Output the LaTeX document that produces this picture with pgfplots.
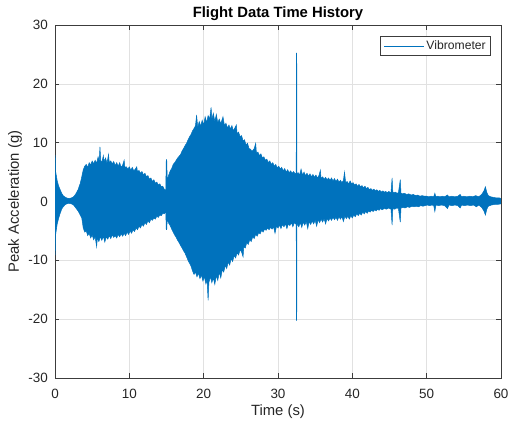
\documentclass[border=0pt]{standalone}
\usepackage{fontspec}
\setmainfont{Liberation Sans}
\usepackage{pgfplots}
\pgfplotsset{compat=1.18}
\usepgfplotslibrary{fillbetween}
\definecolor{mblue}{RGB}{0,114,189}
\definecolor{gridc}{RGB}{225,225,225}
\definecolor{axc}{RGB}{60,60,60}
\begin{document}
\begin{tikzpicture}
\begin{axis}[
  at={(0,0)}, anchor=south west,
  width=446bp, height=353bp, scale only axis,
  xmin=0, xmax=60, ymin=-30, ymax=30,
  xtick={0,10,...,60}, ytick={-30,-20,...,30},
  grid=major, grid style={gridc, line width=0.5bp},
  axis line style={axc, line width=0.6bp},
  tick style={axc, line width=0.6bp},
  tick align=inside, major tick length=4.5bp,
  /pgf/number format/assume math mode=true,
  ticklabel style={font=\fontsize{13.5}{16}\selectfont, text=black!85},
  xticklabel style={anchor=north, inner sep=0pt, yshift=-10.7bp},
  yticklabel style={anchor=east, inner sep=0pt, xshift=-7bp},
  xlabel={Time (s)}, ylabel={Peak Acceleration (g)},
  xlabel style={at={(axis description cs:0.5,-0.0963)}, anchor=center, font=\fontsize{14.9}{17}\selectfont, text=black!85},
  ylabel style={at={(axis description cs:-0.0897,0.5)}, anchor=center, font=\fontsize{14.9}{17}\selectfont, text=black!85},
  title={Flight Data Time History},
  title style={at={(axis description cs:0.5,1.016)}, anchor=center, font=\bfseries\fontsize{14.9}{17}\selectfont},
  legend style={at={(1,1)}, anchor=north east, xshift=-10bp, yshift=-11bp,
    font=\fontsize{12.2}{14}\selectfont, draw=axc, line width=0.6bp,
    inner xsep=3bp, inner ysep=2.5bp, text=black!85},
  legend image code/.code={\draw[mblue, line width=0.7bp] (0bp,0bp) -- (40bp,0bp);},
  legend cell align=left,
]
\addplot[mblue, line width=0.5bp, name path=U, forget plot] coordinates {
(0,7.9)(0.05,7.2)(0.1,5.0)(0.3,3.5)(0.5,2.6)(0.7,2.0)(0.9,1.4)(1.1,1.0)(1.4,0.7)(1.8,0.5)(2.2,0.6)(2.5,0.8)(2.8,1.3)(3.1,2.0)(3.4,3.1)(3.6,4.2)(3.8,5.4)(4.0,6.0)(4.2,6.3)(4.4,5.8)(4.6,6.6)(4.8,6.2)(5.0,6.9)(5.2,6.4)(5.4,7.0)(5.6,6.5)(5.8,7.6)(5.95,6.9)(6.05,9.3)(6.15,7.0)(6.3,6.6)(6.5,7.8)(6.6,6.8)(6.8,7.4)(7.0,6.5)(7.2,8.0)(7.3,6.6)(7.5,6.9)(7.7,6.4)(7.9,6.8)(8.1,6.1)(8.3,6.6)(8.5,6.0)(8.7,6.6)(8.9,5.8)(9.1,6.2)(9.3,7.0)(9.4,5.8)(9.6,5.9)(9.8,5.5)(10.0,5.9)(10.2,5.3)(10.4,5.8)(10.6,5.2)(10.8,5.5)(11.0,5.9)(11.1,5.0)(11.3,5.3)(11.5,4.8)(11.7,5.1)(11.9,4.5)(12.1,4.8)(12.3,4.2)(12.5,4.4)(12.7,3.8)(12.9,4.0)(13.1,3.4)(13.3,3.7)(13.5,3.1)(13.7,3.3)(13.9,2.8)(14.1,3.0)(14.3,2.5)(14.5,2.6)(14.7,2.1)(14.9,1.9)(14.97,7.1)(15.03,7.1)(15.1,3.7)(15.3,4.5)(15.5,5.2)(15.7,5.6)(15.9,6.3)(16.1,6.6)(16.3,7.0)(16.5,7.4)(16.7,7.7)(16.9,8.0)(17.1,8.6)(17.3,9.0)(17.5,9.5)(17.7,9.9)(17.9,10.5)(18.1,11.0)(18.3,11.4)(18.5,12.0)(18.7,12.4)(18.9,12.9)(19.05,14.7)(19.2,12.6)(19.4,13.6)(19.6,12.8)(19.8,13.8)(20.0,13.0)(20.2,14.4)(20.4,13.4)(20.6,14.6)(20.8,14.0)(21.0,16.0)(21.1,14.0)(21.3,15.0)(21.5,13.6)(21.7,14.8)(21.9,13.4)(22.1,14.0)(22.3,13.2)(22.6,14.4)(22.8,12.9)(23.0,13.3)(23.2,12.5)(23.4,13.0)(23.6,12.3)(23.8,12.9)(24.0,12.0)(24.2,12.5)(24.4,13.0)(24.5,11.5)(24.7,11.8)(24.9,11.0)(25.1,11.2)(25.3,10.3)(25.5,10.5)(25.7,9.6)(25.9,9.9)(26.1,9.0)(26.3,8.9)(26.5,8.5)(26.8,9.0)(27.0,9.9)(27.1,8.2)(27.3,8.4)(27.5,7.8)(27.7,8.1)(27.9,7.4)(28.1,7.6)(28.3,7.0)(28.5,7.2)(28.7,6.6)(28.9,6.9)(29.1,6.3)(29.3,6.6)(29.5,6.0)(29.7,6.3)(29.9,5.7)(30.1,6.0)(30.3,5.5)(30.5,5.8)(30.7,5.2)(30.9,5.6)(31.1,5.0)(31.3,5.4)(31.5,4.9)(31.7,5.2)(31.9,4.8)(32.1,5.1)(32.3,4.7)(32.45,4.8)(32.48,25.2)(32.52,25.2)(32.55,4.6)(32.7,4.9)(32.9,4.5)(33.1,5.5)(33.3,4.5)(33.5,5.0)(33.7,4.4)(33.9,4.8)(34.1,4.3)(34.3,4.7)(34.5,4.2)(34.7,4.6)(34.9,4.1)(35.1,4.5)(35.3,4.0)(35.5,4.4)(35.7,5.3)(35.8,3.9)(36.0,4.2)(36.2,3.8)(36.4,4.1)(36.6,3.7)(36.8,4.0)(37.0,3.6)(37.2,4.0)(37.4,3.5)(37.6,3.9)(37.8,3.4)(38.0,3.8)(38.2,3.3)(38.4,3.6)(38.6,3.2)(38.8,3.6)(38.95,5.0)(39.1,3.2)(39.3,3.4)(39.5,3.0)(39.7,3.5)(39.9,3.0)(40.1,3.2)(40.3,2.8)(40.5,3.0)(40.7,2.6)(40.9,2.9)(41.1,2.5)(41.3,2.7)(41.5,2.3)(41.7,2.6)(41.9,2.2)(42.1,2.4)(42.3,2.0)(42.5,2.2)(42.7,1.9)(42.9,2.1)(43.1,1.8)(43.3,2.0)(43.5,1.7)(43.7,1.9)(43.9,1.6)(44.1,1.8)(44.3,1.6)(44.5,1.7)(44.7,1.5)(44.9,1.7)(45.2,1.5)(45.35,4.0)(45.45,1.6)(45.6,1.5)(45.8,1.6)(46.0,1.4)(46.2,1.5)(46.45,3.7)(46.55,1.4)(46.8,1.3)(47.0,1.4)(47.3,1.2)(47.6,1.3)(47.9,1.1)(48.2,1.2)(48.5,1.0)(48.8,1.1)(49.1,0.9)(49.4,1.0)(49.7,0.9)(50.0,0.9)(50.3,0.8)(50.6,0.9)(50.95,0.8)(51.1,1.4)(51.25,0.8)(51.5,0.9)(51.8,0.8)(52.1,0.9)(52.4,0.8)(52.8,1.1)(53.0,0.8)(53.4,0.9)(53.8,0.8)(54.2,0.9)(54.5,1.2)(54.7,0.8)(55.0,0.9)(55.4,0.8)(55.8,0.9)(56.2,0.8)(56.6,1.0)(57.0,0.8)(57.4,1.2)(57.7,1.8)(57.9,2.5)(58.1,1.5)(58.3,1.0)(58.6,0.8)(59.0,0.7)(59.4,0.6)(59.8,0.6)(60,0.5)
};
\addplot[mblue, line width=0.5bp, name path=L, forget plot] coordinates {
(0,-9.1)(0.05,-8.0)(0.1,-5.5)(0.3,-3.8)(0.5,-2.8)(0.7,-2.0)(0.9,-1.3)(1.1,-0.9)(1.4,-0.5)(1.8,-0.3)(2.2,-0.4)(2.5,-0.6)(2.8,-1.1)(3.1,-1.6)(3.4,-2.3)(3.6,-2.8)(3.8,-4.5)(4.0,-5.2)(4.2,-5.0)(4.4,-5.8)(4.6,-5.4)(4.8,-6.2)(5.0,-5.7)(5.2,-6.5)(5.4,-6.0)(5.6,-7.7)(5.7,-6.2)(5.9,-6.8)(6.1,-6.0)(6.3,-6.6)(6.5,-5.9)(6.7,-6.9)(6.9,-6.0)(7.1,-6.4)(7.3,-5.8)(7.5,-6.3)(7.7,-5.7)(7.9,-6.1)(8.1,-5.8)(8.3,-6.2)(8.5,-5.6)(8.7,-6.0)(8.9,-5.5)(9.1,-5.9)(9.3,-5.4)(9.5,-5.8)(9.7,-5.2)(9.9,-5.6)(10.1,-5.0)(10.3,-5.4)(10.5,-4.8)(10.7,-5.1)(10.9,-4.5)(11.1,-4.8)(11.3,-4.2)(11.5,-4.5)(11.7,-3.9)(11.9,-4.2)(12.1,-3.6)(12.3,-3.9)(12.5,-3.3)(12.7,-3.6)(12.9,-3.0)(13.1,-3.2)(13.3,-2.8)(13.5,-3.0)(13.7,-2.5)(13.9,-2.7)(14.1,-2.3)(14.3,-2.4)(14.5,-2.0)(14.7,-2.1)(14.9,-1.7)(14.97,-4.8)(15.03,-4.8)(15.1,-3.0)(15.3,-3.7)(15.5,-4.1)(15.7,-4.7)(15.9,-5.2)(16.1,-5.7)(16.3,-6.1)(16.5,-6.6)(16.7,-7.0)(16.9,-7.5)(17.1,-7.9)(17.3,-8.4)(17.5,-8.8)(17.7,-9.4)(17.9,-10.0)(18.1,-10.5)(18.3,-11.0)(18.5,-11.8)(18.7,-12.4)(18.9,-12.0)(19.1,-12.8)(19.3,-12.2)(19.5,-13.1)(19.7,-12.5)(19.9,-13.5)(20.1,-12.8)(20.3,-14.0)(20.45,-13.2)(20.6,-16.8)(20.7,-13.8)(20.9,-12.8)(21.1,-13.8)(21.3,-13.0)(21.5,-14.1)(21.7,-12.6)(21.9,-13.4)(22.1,-12.0)(22.3,-13.0)(22.5,-11.6)(22.7,-12.0)(22.9,-10.9)(23.1,-11.4)(23.3,-10.3)(23.5,-10.8)(23.7,-9.7)(23.9,-10.2)(24.1,-9.2)(24.3,-9.6)(24.5,-8.7)(24.7,-9.1)(24.9,-8.2)(25.1,-8.6)(25.3,-9.4)(25.4,-7.7)(25.6,-7.9)(25.8,-7.0)(26.0,-7.3)(26.2,-6.5)(26.4,-6.8)(26.6,-6.0)(26.8,-6.3)(27.0,-5.6)(27.2,-5.9)(27.4,-5.3)(27.6,-5.5)(27.8,-4.9)(28.0,-5.2)(28.2,-4.7)(28.4,-4.9)(28.6,-4.5)(28.8,-4.8)(29.0,-4.4)(29.2,-4.7)(29.4,-4.3)(29.6,-5.4)(29.8,-4.2)(30.0,-4.5)(30.2,-4.0)(30.4,-4.6)(30.6,-3.9)(30.8,-4.3)(31.0,-3.8)(31.2,-4.6)(31.4,-3.8)(31.6,-4.1)(31.8,-3.6)(32.0,-4.3)(32.2,-3.6)(32.45,-3.9)(32.48,-20.2)(32.52,-20.2)(32.55,-3.8)(32.8,-4.3)(33.0,-3.6)(33.2,-4.4)(33.4,-3.5)(33.6,-4.0)(33.8,-3.4)(34.0,-4.6)(34.2,-3.4)(34.4,-3.9)(34.6,-3.3)(34.8,-3.8)(35.0,-3.2)(35.2,-4.2)(35.4,-3.1)(35.6,-3.6)(35.8,-3.0)(36.0,-3.5)(36.2,-2.9)(36.4,-3.8)(36.6,-2.9)(36.8,-3.3)(37.0,-2.8)(37.2,-3.2)(37.4,-2.7)(37.6,-3.1)(37.8,-2.7)(38.0,-3.2)(38.2,-2.6)(38.4,-3.0)(38.6,-2.6)(38.8,-3.4)(39.0,-2.5)(39.2,-2.9)(39.4,-2.5)(39.6,-3.0)(39.8,-2.4)(40.0,-2.8)(40.2,-2.3)(40.4,-2.6)(40.6,-2.1)(40.8,-2.4)(41.0,-2.0)(41.2,-2.3)(41.4,-1.8)(41.6,-2.1)(41.8,-1.7)(42.0,-2.0)(42.2,-1.6)(42.4,-1.8)(42.6,-1.5)(42.8,-1.7)(43.0,-1.4)(43.2,-1.6)(43.4,-1.3)(43.6,-1.5)(43.8,-1.2)(44.0,-1.4)(44.3,-1.2)(44.6,-1.3)(44.9,-1.1)(45.2,-1.3)(45.35,-4.0)(45.45,-1.2)(45.7,-1.3)(46.0,-1.1)(46.2,-1.2)(46.45,-3.5)(46.55,-1.1)(46.8,-1.0)(47.1,-1.1)(47.4,-0.9)(47.7,-1.0)(48.0,-0.8)(48.3,-0.9)(48.6,-0.8)(48.9,-0.9)(49.2,-0.7)(49.5,-0.8)(49.8,-0.7)(50.1,-0.6)(50.4,-0.7)(50.7,-0.6)(50.95,-0.7)(51.1,-1.7)(51.25,-0.6)(51.6,-0.7)(52.0,-0.6)(52.4,-0.7)(52.8,-1.2)(53.0,-0.6)(53.4,-0.7)(53.8,-0.6)(54.2,-0.7)(54.5,-1.1)(54.7,-0.6)(55.1,-0.7)(55.5,-0.6)(55.9,-0.7)(56.3,-0.6)(56.7,-0.9)(57.0,-0.6)(57.4,-1.0)(57.7,-1.6)(57.9,-2.3)(58.1,-1.3)(58.3,-0.8)(58.7,-0.6)(59.1,-0.5)(59.5,-0.5)(60,-0.4)
};
\addplot[fill=mblue, draw=none, forget plot] fill between[of=U and L];
\addlegendimage{mblue, line width=0.7bp}
\addlegendentry{Vibrometer}
\end{axis}
\pgfresetboundingbox
\path[use as bounding box] (-55bp,-45bp) rectangle (453bp,378bp);
\end{tikzpicture}
\end{document}
